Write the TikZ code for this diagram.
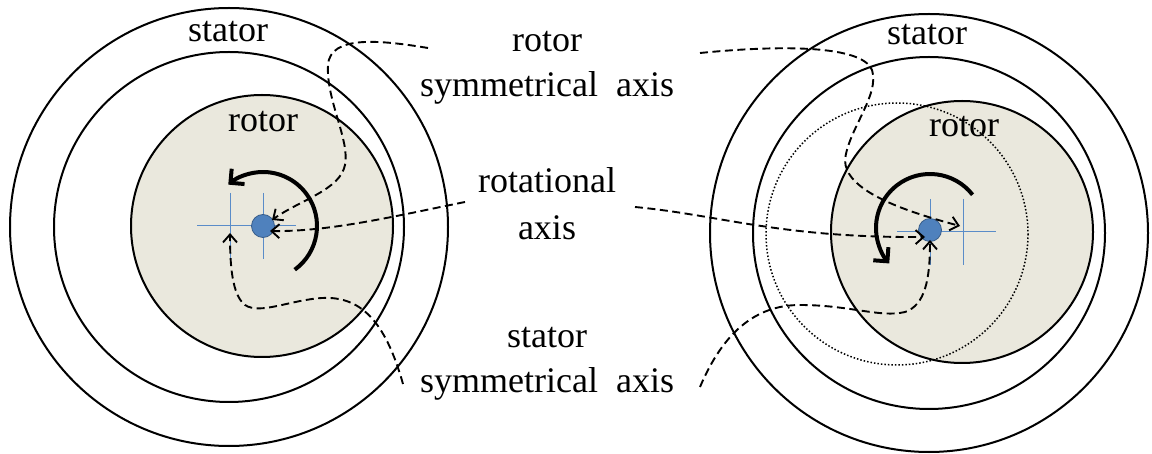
\documentclass[tikz,border=0pt]{standalone}
\usepackage{fontspec}
\setmainfont{Liberation Serif}
\usetikzlibrary{arrows.meta}
\definecolor{rotorfill}{RGB}{234,232,221}
\definecolor{dotblue}{RGB}{79,129,189}
\definecolor{dotedge}{RGB}{56,93,138}
\definecolor{crossblue}{RGB}{90,140,200}
\begin{document}
\begin{tikzpicture}[x=1pt,y=-1pt,
  circ/.style={line width=2pt},
  rotordisk/.style={line width=2pt, fill=rotorfill},
  ghost/.style={line width=1.5pt, dotted},
  lbl/.style={font=\fontsize{36}{45}\selectfont, align=center, inner sep=0pt, anchor=base},
  lead/.style={dash pattern=on 8pt off 4.5pt, line width=1.9pt, -{Straight Barb[length=8pt,width=14pt]}},
  rot/.style={line width=4pt, -{Straight Barb[length=10pt,width=20pt,line width=4pt]}},
  crossl/.style={crossblue, line width=1pt},
  axisdot/.style={circle, fill=dotblue, draw=dotedge, line width=0.8pt, minimum size=23pt, inner sep=0pt},
  ]
\useasboundingbox (0,0) rectangle (1152,454);

% ---------- left diagram ----------
\draw[circ] (229,227) circle[radius=219];
\draw[circ] (229,227) circle[radius=175];
\draw[rotordisk] (262,226) circle[radius=131];
\draw[crossl] (197,226) -- (296,226);
\draw[crossl] (230,193) -- (230,259);
\draw[crossl] (263,193) -- (263,259);
\node[axisdot] (dotL) at (263,226) {};
\coordinate (statcL) at (230,226);
\draw[rot] (263,226) ++(54:54) arc[start angle=54, end angle=-130, radius=54];
\node[lbl] (statorL) at (228,42) {stator};
\node[lbl] (rotorL) at (263,132) {rotor};

% ---------- right diagram ----------
\draw[circ] (929,233) circle[radius=219];
\draw[circ] (929,233) circle[radius=176];
\draw[rotordisk] (962,232) circle[radius=131];
\draw[ghost] (897,234) circle[radius=131];
\draw[crossl] (897,232) -- (996,232);
\draw[crossl] (930,199) -- (930,265);
\draw[crossl] (963,199) -- (963,265);
\node[axisdot] (dotR) at (930,230) {};
\coordinate (rotcR) at (962,226);
\draw[rot] (930,228) ++(-38:54) arc[start angle=-38, end angle=-221, radius=54];
\node[lbl] (statorR) at (927,45) {stator};
\node[lbl] (rotorR) at (964,137) {rotor};

% ---------- middle labels (base = last line) ----------
\node[lbl] (rsa) at (547,97) {rotor\\symmetrical\ \ axis};
\node[lbl] (ra) at (547,240) {rotational\\[2pt]axis};
\node[lbl] (ssa) at (547,392) {stator\\symmetrical\ \ axis};

% ---------- leader ends ----------
\coordinate (rsaL) at (428,48);
\coordinate (rsaR) at (700,53);
\coordinate (raL) at (465,202);
\coordinate (raR) at (635,207);
\coordinate (ssaL) at (403,384);
\coordinate (ssaR) at (700,387);
\coordinate (tipL1) at (272,220);
\coordinate (tipL2) at (270,231);
\coordinate (tipL3) at (230,233);
\coordinate (tipR1) at (960,226);
\coordinate (tipR2) at (925,237);
\coordinate (tipR3) at (930,240);

% ---------- dashed leaders ----------
\draw[lead] (rsaL) .. controls (380,40) and (330,35) .. (328,65)
  .. controls (326,100) and (350,140) .. (345,165)
  .. controls (340,190) and (300,200) .. (tipL1);
\draw[lead] (raL) .. controls (400,215) and (330,232) .. (tipL2);
\draw[lead] (ssaL) .. controls (385,320) and (360,296) .. (322,298)
  .. controls (290,300) and (260,315) .. (245,305)
  .. controls (232,295) and (230,265) .. (tipL3);

\draw[lead] (rsaR) .. controls (780,45) and (862,45) .. (872,70)
  .. controls (880,95) and (848,130) .. (845,160)
  .. controls (845,190) and (900,210) .. (tipR1);
\draw[lead] (raR) .. controls (720,215) and (780,238) .. (tipR2);
\draw[lead] (ssaR) .. controls (720,340) and (750,305) .. (800,305)
  .. controls (850,305) and (880,318) .. (905,312)
  .. controls (925,305) and (930,280) .. (tipR3);
\end{tikzpicture}
\end{document}
